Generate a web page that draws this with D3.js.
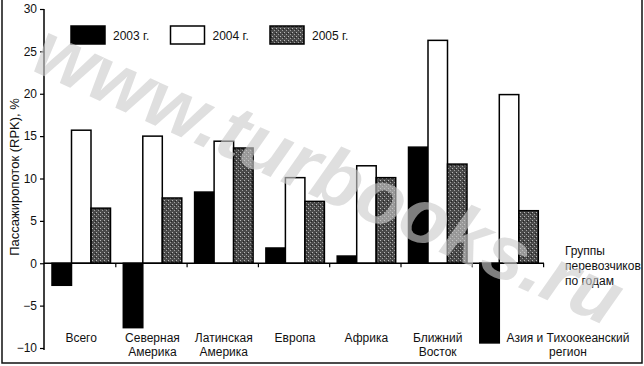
<!DOCTYPE html>
<html>
<head>
<meta charset="utf-8">
<script src="https://cdn.jsdelivr.net/npm/d3@7"></script>
<style>
  body { margin: 0; background: #fff; }
  svg { display: block; font-family: "Liberation Sans", Arial, sans-serif; }
</style>
</head>
<body>
<div id="chart"></div>
<script>
// data
var groups = ['Всего', 'Северная Америка', 'Латинская Америка', 'Европа', 'Африка', 'Ближний Восток', 'Азия и Тихоокеанский регион']
var groupLabels = [['Всего'], ['Северная', 'Америка'], ['Латинская', 'Америка'], ['Европа'], ['Африка'], ['Ближний', 'Восток'], ['Азия и Тихоокеанский', 'регион']]
var years = ['2003 г.', '2004 г.', '2005 г.']
var v2003 = [-2.6, -7.6, 8.4, 1.8, 0.85, 13.7, -9.4]
var v2004 = [15.7, 15.0, 14.4, 10.1, 11.5, 26.3, 19.9]
var v2005 = [6.5, 7.7, 13.6, 7.3, 10.1, 11.7, 6.2]
var yTicks = [30, 25, 20, 15, 10, 5, 0, -5, -10]

var series = [v2003, v2004, v2005]
var width = 644, height = 366

var svg = d3.select('#chart').append('svg')
    .attr('width', width)
    .attr('height', height)

var defs = svg.append('defs')
var pat = defs.append('pattern')
    .attr('id', 'speckle')
    .attr('patternUnits', 'userSpaceOnUse')
    .attr('width', 4).attr('height', 4)
pat.append('rect').attr('width', 4).attr('height', 4).attr('fill', '#4a4a4a')
pat.append('rect').attr('x', 0).attr('y', 0).attr('width', 1).attr('height', 1).attr('fill', '#b8b8b8')
pat.append('rect').attr('x', 2).attr('y', 2).attr('width', 1).attr('height', 1).attr('fill', '#a0a0a0')
pat.append('rect').attr('x', 3).attr('y', 1).attr('width', 1).attr('height', 1).attr('fill', '#222')

var fills = ['#000', '#fff', 'url(#speckle)']

// scales
var y = d3.scaleLinear().domain([-10, 30]).range([348, 9])
var x0 = d3.scaleBand().domain(groups).range([45.5, 544.6]).paddingInner(0).paddingOuter(0)
var x1 = d3.scaleBand().domain(years).range([6.5, 65])

// frame
svg.append('path')
    .attr('d', 'M2,0 V363 H642 V0')
    .attr('fill', 'none')
    .attr('stroke', '#111')
    .attr('stroke-width', 1.5)

// bars
var bars = svg.append('g')
groups.forEach(function (g, gi) {
  series.forEach(function (s, si) {
    var v = s[gi]
    bars.append('rect')
        .attr('x', x0(g) + x1(years[si]))
        .attr('y', y(Math.max(0, v)))
        .attr('width', x1.bandwidth())
        .attr('height', Math.abs(y(v) - y(0)))
        .attr('fill', fills[si])
        .attr('stroke', '#000')
        .attr('stroke-width', 1.5)
  })
})

// y axis
var yAxis = d3.axisLeft(y).tickValues(yTicks).tickSize(4).tickFormat(d3.format('d'))
var ya = svg.append('g').attr('transform', 'translate(44,0)').call(yAxis)
ya.select('.domain').attr('stroke-width', 1.5).attr('d', 'M0,' + y(30) + 'V' + (y(-10) + 2))
ya.selectAll('text').attr('font-size', 12).attr('fill', '#111').attr('font-family', '"Liberation Sans", Arial, sans-serif')
ya.selectAll('line').attr('stroke-width', 1.2)

// zero axis with group ticks
var xa = svg.append('g')
xa.append('line')
    .attr('x1', 44).attr('x2', 544)
    .attr('y1', y(0)).attr('y2', y(0))
    .attr('stroke', '#000').attr('stroke-width', 1.5)
groups.forEach(function (g) {
  var tx = x0(g) + x0.bandwidth() - 1
  xa.append('line')
      .attr('x1', tx).attr('x2', tx)
      .attr('y1', y(0)).attr('y2', y(0) + 4)
      .attr('stroke', '#000').attr('stroke-width', 1.2)
})

// group labels
var labelShift = [0, 0, 0, 0, 0, 0, 59]
groupLabels.forEach(function (lines, i) {
  var cx = x0(groups[i]) + x0.bandwidth() / 2 + labelShift[i]
  var t = svg.append('text')
      .attr('text-anchor', 'middle')
      .attr('font-size', 12)
      .attr('fill', '#111')
  lines.forEach(function (l, li) {
    t.append('tspan').attr('x', cx).attr('y', 342 + li * 14).text(l)
  })
})

// axis titles
svg.append('text')
    .attr('transform', 'translate(19,177) rotate(-90)')
    .attr('text-anchor', 'middle')
    .attr('font-size', 13)
    .attr('fill', '#111')
    .text('Пассажиропоток (RPK), %')

var gt = svg.append('text').attr('font-size', 12).attr('fill', '#111')
;['Группы', 'перевозчиков', 'по годам'].forEach(function (l, i) {
  gt.append('tspan').attr('x', 565).attr('y', 255 + i * 15).text(l)
})

// legend
var legend = svg.append('g')
years.forEach(function (yr, i) {
  var lx = 71 + i * 99.5
  legend.append('rect')
      .attr('x', lx).attr('y', 26)
      .attr('width', 34).attr('height', 18)
      .attr('fill', fills[i])
      .attr('stroke', '#000').attr('stroke-width', 1.5)
  legend.append('text')
      .attr('x', lx + 42).attr('y', 40)
      .attr('font-size', 12)
      .attr('fill', '#111')
      .text(yr)
})

// watermark over the chart
svg.append('text')
    .attr('transform', 'translate(318,198) rotate(24)')
    .attr('text-anchor', 'middle')
    .attr('font-size', 78)
    .attr('font-weight', 'bold')
    .attr('font-style', 'italic')
    .attr('fill', '#cccccc')
    .attr('opacity', 0.62)
    .text('www.turbooks.ru')
</script>
</body>
</html>
